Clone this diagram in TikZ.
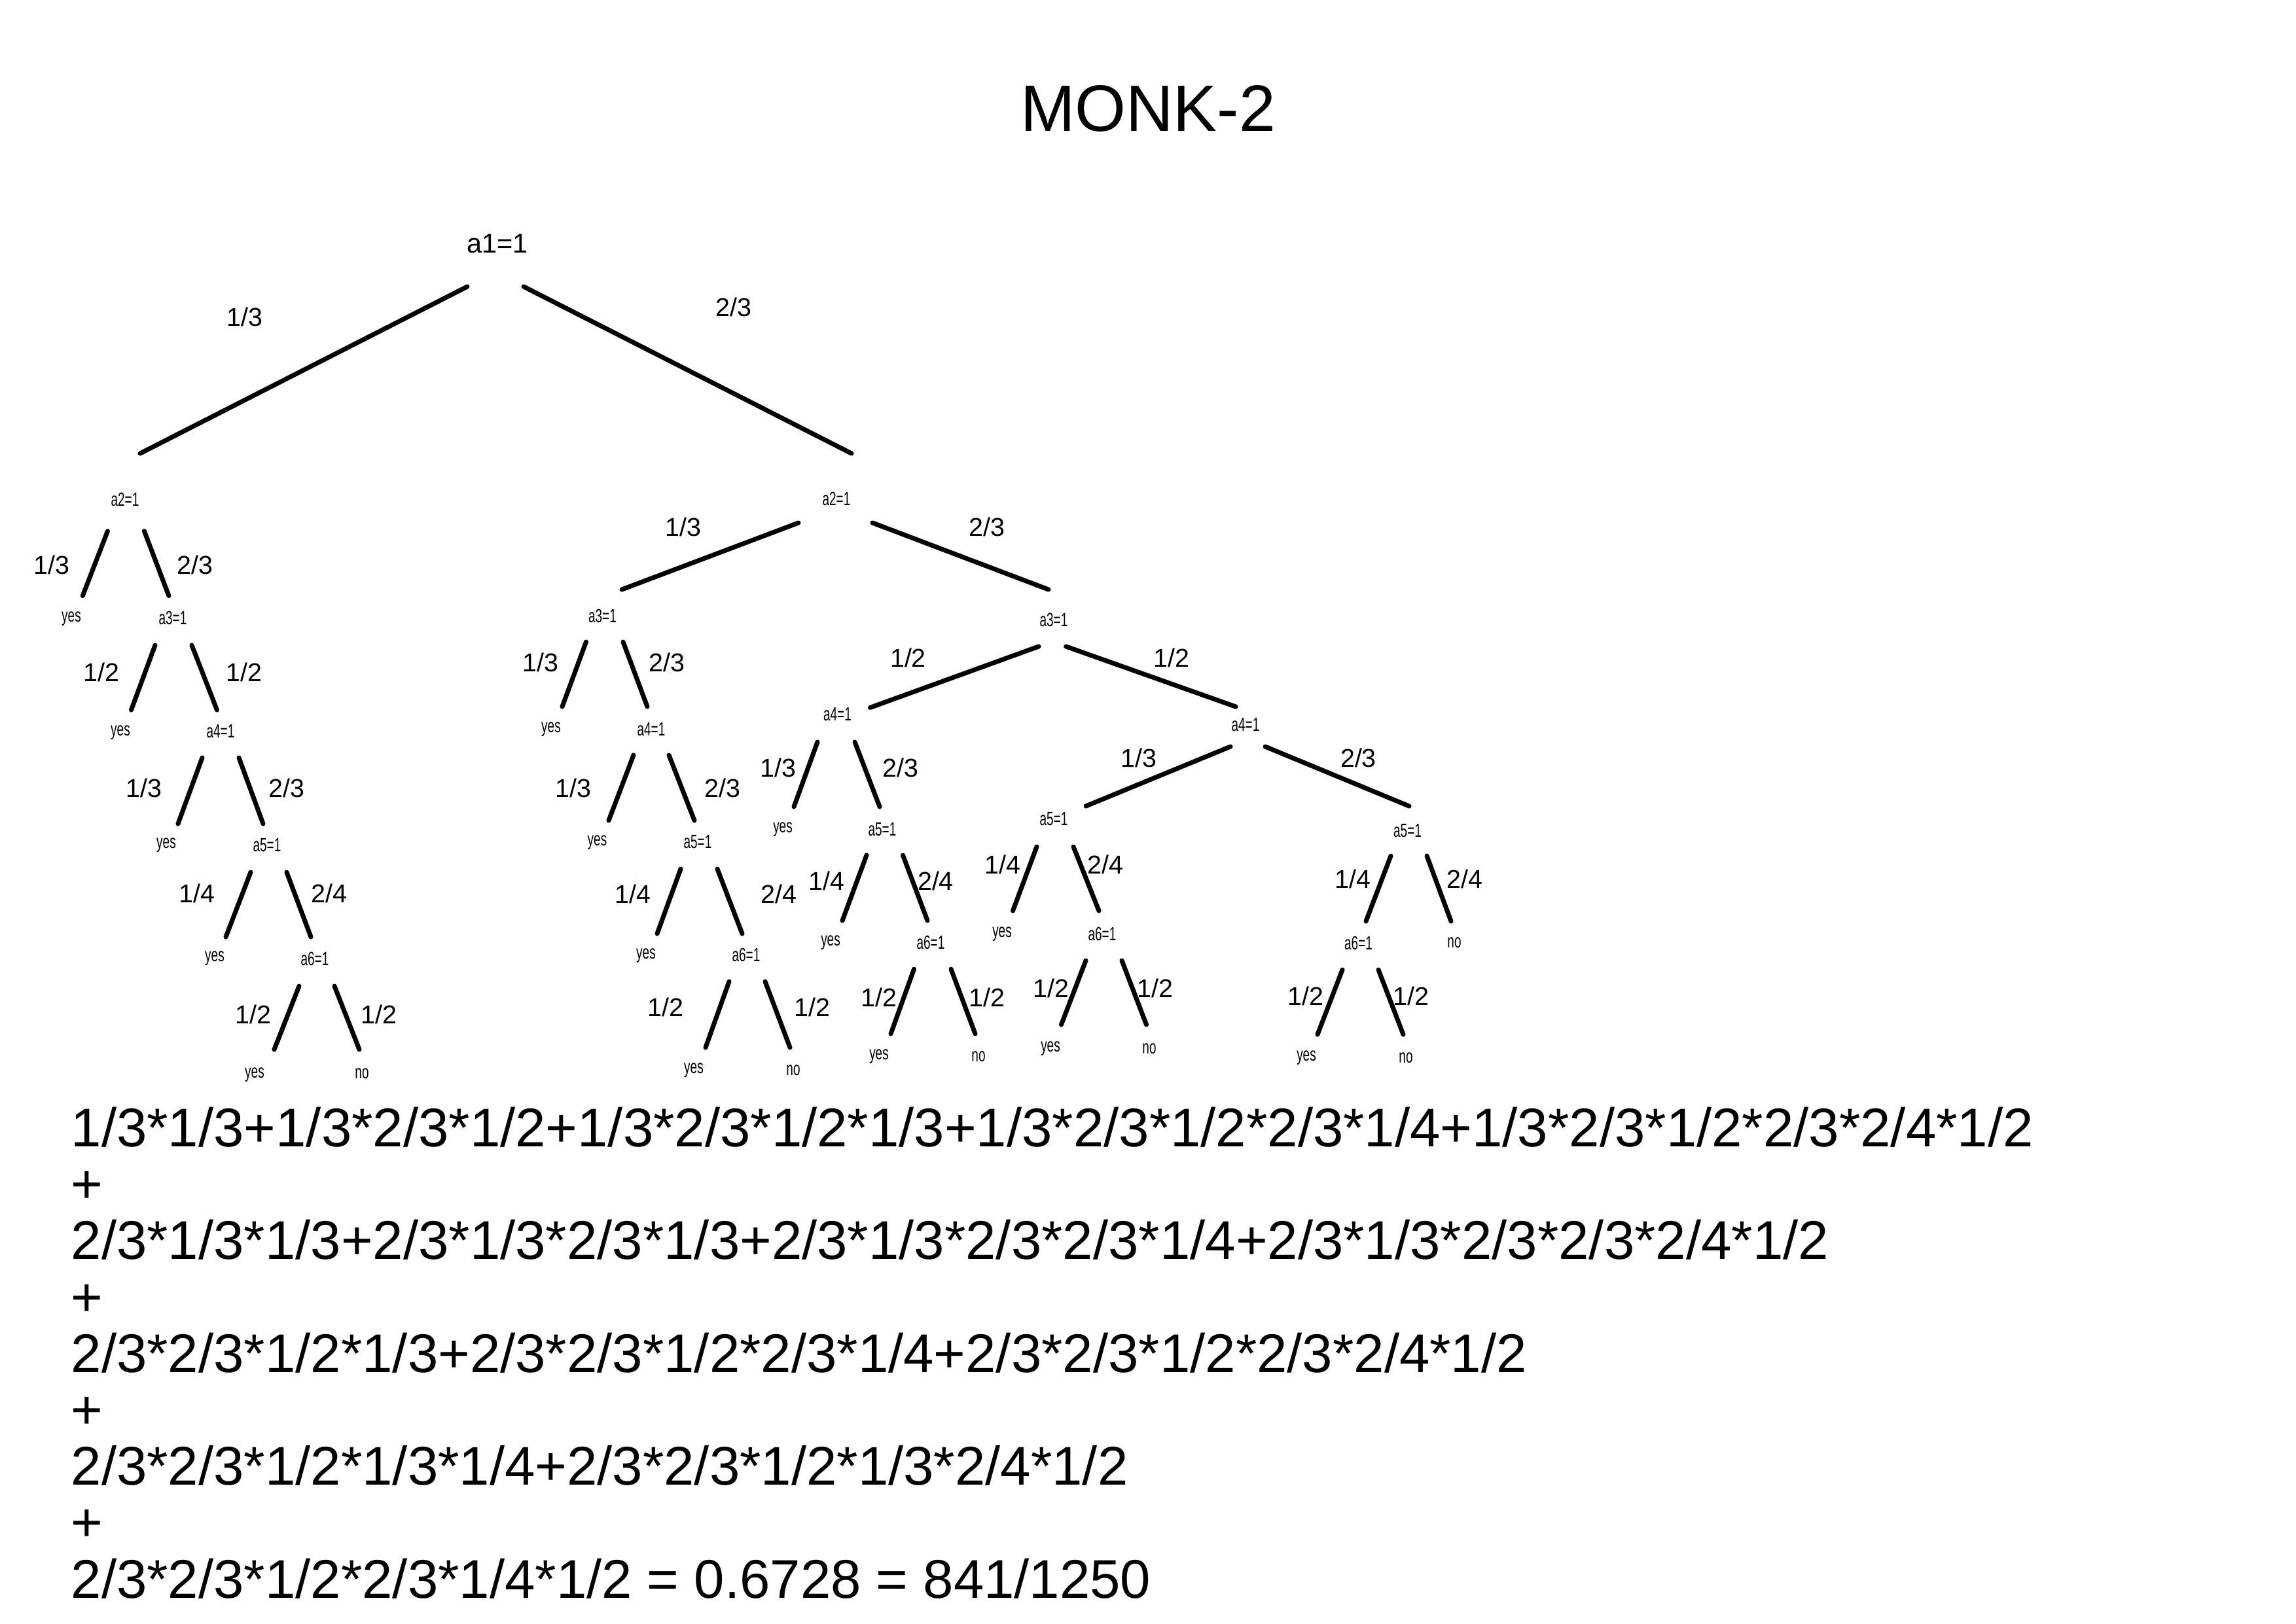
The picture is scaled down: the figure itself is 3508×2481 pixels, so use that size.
\documentclass[tikz,border=0pt]{standalone}
\usepackage{graphicx}
\usepackage{fontspec}
\setmainfont{Liberation Sans}
\newcommand\narrowtxt[1]{\scalebox{0.65}[1]{#1}}
\newcommand\edgeln[4]{\draw[brl] ([shift={(#2)}]#1.center) -- ([shift={(#4)}]#3.center);}
\begin{document}
\begin{tikzpicture}[x=0.01cm,y=-0.01cm,
  brl/.style={line width=2pt,line cap=round},
  sm/.style={inner sep=0pt,font=\fontsize{8.3}{10}\selectfont},
  lab/.style={inner sep=0pt,font=\fontsize{11.2}{13}\selectfont},
  top/.style={inner sep=0pt,font=\fontsize{11.8}{14}\selectfont},
  formula/.style={inner sep=0pt,anchor=base west,font=\fontsize{23.7}{28}\selectfont},
  ttl/.style={inner sep=0pt,anchor=base,font=\fontsize{28.5}{34}\selectfont}]
\fill[white] (0,0) rectangle (3508,2481);
\useasboundingbox (0,0) rectangle (3508,2481);

\node[ttl] (title) at (1754,200) {MONK-2};

% root
\node[top] (n1) at (760,372) {a1=1};
\node[sm] (A2L) at (191,763) {\narrowtxt{a2=1}};
\node[sm] (A2M) at (1278,762) {\narrowtxt{a2=1}};
\edgeln{n1}{-46,66}{A2L}{23,-70}
\edgeln{n1}{40,66}{A2M}{23,-69}
\node[lab] (t1) at (374,484) {1/3};
\node[lab] (t2) at (1121,469) {2/3};

% ---------- left subtree ----------
\node[sm] (Y1) at (109,946) {\narrowtxt{yes}};
\node[sm] (A3L) at (264,944) {\narrowtxt{a3=1}};
\edgeln{A2L}{-26.5,48.6}{Y1}{17.3,-35.5}
\edgeln{A2L}{29.4,48.6}{A3L}{-6.1,-33.5}
\node[lab] (l1) at (79,863) {1/3};
\node[lab] (l2) at (298,863) {2/3};

\node[sm] (Y2) at (184,1120) {\narrowtxt{yes}};
\node[sm] (A4L) at (337,1118) {\narrowtxt{a4=1}};
\edgeln{A3L}{-27,42}{Y2}{16.5,-35}
\edgeln{A3L}{29,42}{A4L}{-5.5,-33}
\node[lab] (l3) at (155,1027) {1/2};
\node[lab] (l4) at (373,1027) {1/2};

\node[sm] (Y3) at (254,1292) {\narrowtxt{yes}};
\node[sm] (A5L) at (408,1292) {\narrowtxt{a5=1}};
\edgeln{A4L}{-28,40}{Y3}{18,-33}
\edgeln{A4L}{28,40}{A5L}{-6,-33}
\node[lab] (l5) at (220,1204) {1/3};
\node[lab] (l6) at (438,1204) {2/3};

\node[sm] (Y4) at (328,1465) {\narrowtxt{yes}};
\node[sm] (A6L) at (481,1465) {\narrowtxt{a6=1}};
\edgeln{A5L}{-25,41}{Y4}{17,-33}
\edgeln{A5L}{30,41}{A6L}{-6,-33}
\node[lab] (l7) at (301,1365) {1/4};
\node[lab] (l8) at (503,1365) {2/4};

\node[sm] (Y5) at (389,1643) {\narrowtxt{yes}};
\node[sm] (N1) at (553,1641) {\narrowtxt{no}};
\edgeln{A6L}{-24,42}{Y5}{30,-39}
\edgeln{A6L}{30,42}{N1}{-4,-37}
\node[lab] (l9) at (387,1550) {1/2};
\node[lab] (l10) at (579,1550) {1/2};

% ---------- middle subtree ----------
\node[sm] (A3M1) at (920.5,941) {\narrowtxt{a3=1}};
\node[sm] (A3M2) at (1610,947.5) {\narrowtxt{a3=1}};
\edgeln{A2M}{-58,37}{A3M1}{29.5,-40}
\edgeln{A2M}{55,37}{A3M2}{-8,-46.5}
\node[lab] (m1) at (1044,805) {1/3};
\node[lab] (m2) at (1508,805) {2/3};

\node[sm] (Y6) at (842,1115) {\narrowtxt{yes}};
\node[sm] (A4M1) at (995,1115) {\narrowtxt{a4=1}};
\edgeln{A3M1}{-25,40}{Y6}{17,-35}
\edgeln{A3M1}{31.5,40}{A4M1}{-6,-35}
\node[lab] (m3) at (826,1012.5) {1/3};
\node[lab] (m4) at (1019,1012.5) {2/3};

\node[sm] (Y7) at (912.5,1288) {\narrowtxt{yes}};
\node[sm] (A5M1) at (1066,1287) {\narrowtxt{a5=1}};
\edgeln{A4M1}{-27,39}{Y7}{17.5,-34}
\edgeln{A4M1}{27,39}{A5M1}{-5,-33}
\node[lab] (m5) at (876,1204) {1/3};
\node[lab] (m6) at (1104,1204) {2/3};

\node[sm] (Y8) at (987,1461) {\narrowtxt{yes}};
\node[sm] (A6M1) at (1140,1459) {\narrowtxt{a6=1}};
\edgeln{A5M1}{-26,41}{Y8}{17,-34}
\edgeln{A5M1}{30,41}{A6M1}{-6,-32}
\node[lab] (m7) at (967,1366.5) {1/4};
\node[lab] (m8) at (1190,1366.5) {2/4};

\node[sm] (Y9) at (1060,1636) {\narrowtxt{yes}};
\node[sm] (N2) at (1212,1636) {\narrowtxt{no}};
\edgeln{A6M1}{-26,41}{Y9}{18,-35}
\edgeln{A6M1}{29,41}{N2}{-5,-35}
\node[lab] (m9) at (1017,1539) {1/2};
\node[lab] (m10) at (1241,1539) {1/2};

% ---------- right part ----------
\node[sm] (A4R1) at (1279.5,1092) {\narrowtxt{a4=1}};
\node[sm] (A4R2) at (1903,1108) {\narrowtxt{a4=1}};
\edgeln{A3M2}{-23,40.5}{A4R1}{50,-10.6}
\edgeln{A3M2}{18.6,40.5}{A4R2}{-15,-28}
\node[lab] (r1) at (1387.5,1005) {1/2};
\node[lab] (r2) at (1790,1005) {1/2};

\node[sm] (Y10) at (1196,1268) {\narrowtxt{yes}};
\node[sm] (A5R1) at (1348,1268) {\narrowtxt{a5=1}};
\edgeln{A4R1}{-30.5,42}{Y10}{17,-35}
\edgeln{A4R1}{26.5,42}{A5R1}{-4,-35}
\node[lab] (r3) at (1189,1173) {1/3};
\node[lab] (r4) at (1376,1173) {2/3};

\node[sm] (Y11) at (1269,1441) {\narrowtxt{yes}};
\node[sm] (A6R1) at (1422,1440) {\narrowtxt{a6=1}};
\edgeln{A5R1}{-24,39}{Y11}{18,-34}
\edgeln{A5R1}{31.5,39}{A6R1}{-5,-33}
\node[lab] (r5) at (1263,1346) {1/4};
\node[lab] (r6) at (1429.5,1346) {2/4};

\node[sm] (Y12) at (1343,1615) {\narrowtxt{yes}};
\node[sm] (N3) at (1495,1615) {\narrowtxt{no}};
\edgeln{A6R1}{-25.5,41}{Y12}{18,-35}
\edgeln{A6R1}{31,41}{N3}{-5,-35}
\node[lab] (r7) at (1343,1524) {1/2};
\node[lab] (r8) at (1508,1524) {1/2};

\node[sm] (A5R2) at (1610,1252) {\narrowtxt{a5=1}};
\node[sm] (A5R3) at (2150.5,1270) {\narrowtxt{a5=1}};
\edgeln{A4R2}{-23,33}{A5R2}{49,-20}
\edgeln{A4R2}{30,33}{A5R3}{2.5,-38}
\node[lab] (r9) at (1740,1158) {1/3};
\node[lab] (r10) at (2075.5,1158) {2/3};

\node[sm] (Y13) at (1531,1428) {\narrowtxt{yes}};
\node[sm] (A6R2) at (1684,1427) {\narrowtxt{a6=1}};
\edgeln{A5R2}{-26,42}{Y13}{16.5,-36}
\edgeln{A5R2}{30,42}{A6R2}{-5,-35}
\node[lab] (r11) at (1532,1321) {1/4};
\node[lab] (r12) at (1689,1321) {2/4};

\node[sm] (Y14) at (1605,1603) {\narrowtxt{yes}};
\node[sm] (N4) at (1756,1603) {\narrowtxt{no}};
\edgeln{A6R2}{-25,41}{Y14}{16.5,-37}
\edgeln{A6R2}{30,41}{N4}{-4.5,-37}
\node[lab] (r13) at (1606,1510) {1/2};
\node[lab] (r14) at (1765,1510) {1/2};

\node[sm] (A6R3) at (2075.5,1441) {\narrowtxt{a6=1}};
\node[sm] (N5) at (2222,1441) {\narrowtxt{no}};
\edgeln{A5R3}{-25.5,38}{A6R3}{11.5,-33}
\edgeln{A5R3}{29.5,38}{N5}{-5,-33}
\node[lab] (r15) at (2067,1343) {1/4};
\node[lab] (r16) at (2238,1343) {2/4};

\node[sm] (Y15) at (1996,1617) {\narrowtxt{yes}};
\node[sm] (N6) at (2148,1617) {\narrowtxt{no}};
\edgeln{A6R3}{-24.5,41}{Y15}{17,-36}
\edgeln{A6R3}{30.5,41}{N6}{-4,-36}
\node[lab] (r17) at (1995,1522) {1/2};
\node[lab] (r18) at (2156,1522) {1/2};

% ---------- formula ----------
\node[formula] (f1) at (108,1752.5) {1/3*1/3+1/3*2/3*1/2+1/3*2/3*1/2*1/3+1/3*2/3*1/2*2/3*1/4+1/3*2/3*1/2*2/3*2/4*1/2};
\node[formula] (f2) at (108,1838.7) {+};
\node[formula] (f3) at (108,1924.9) {2/3*1/3*1/3+2/3*1/3*2/3*1/3+2/3*1/3*2/3*2/3*1/4+2/3*1/3*2/3*2/3*2/4*1/2};
\node[formula] (f4) at (108,2011.1) {+};
\node[formula] (f5) at (108,2097.3) {2/3*2/3*1/2*1/3+2/3*2/3*1/2*2/3*1/4+2/3*2/3*1/2*2/3*2/4*1/2};
\node[formula] (f6) at (108,2183.5) {+};
\node[formula] (f7) at (108,2269.7) {2/3*2/3*1/2*1/3*1/4+2/3*2/3*1/2*1/3*2/4*1/2};
\node[formula] (f8) at (108,2355.9) {+};
\node[formula] (f9) at (108,2442.1) {2/3*2/3*1/2*2/3*1/4*1/2 = 0.6728 = 841/1250};
\end{tikzpicture}
\end{document}
